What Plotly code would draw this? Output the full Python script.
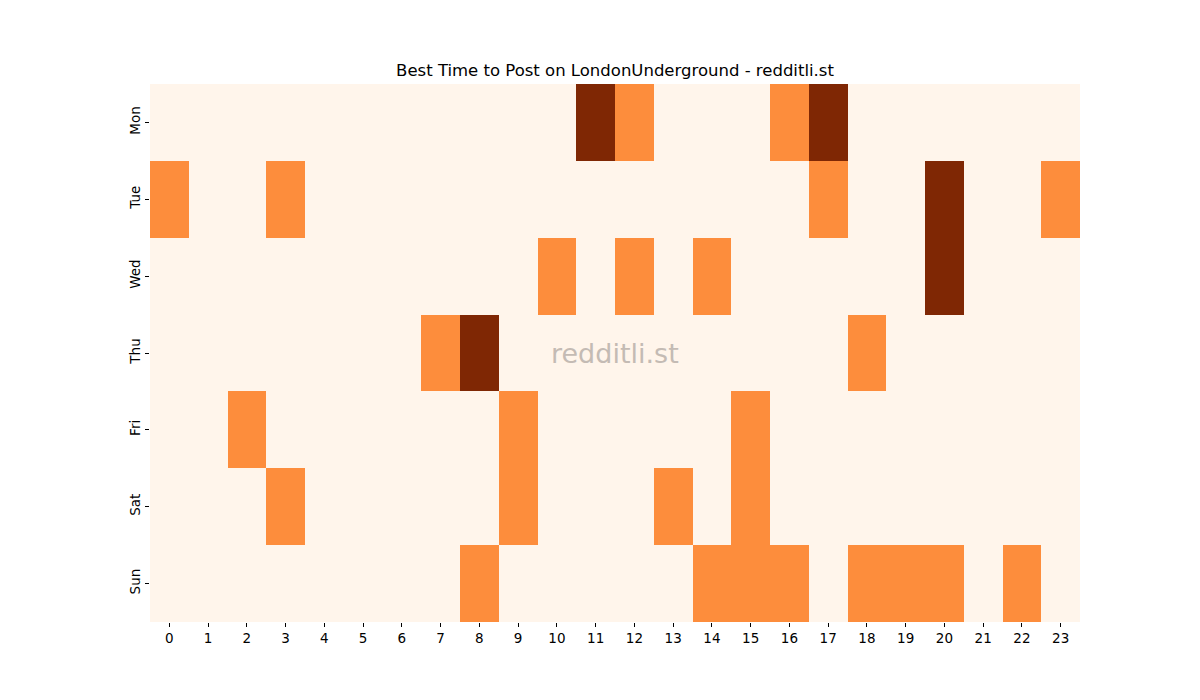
import plotly.graph_objects as go

days = ["Mon", "Tue", "Wed", "Thu", "Fri", "Sat", "Sun"]
hours = list(range(24))

mon = [0,0,0,0,0,0,0,0,0,0,0,2,1,0,0,0,1,2,0,0,0,0,0,0]
tue = [1,0,0,1,0,0,0,0,0,0,0,0,0,0,0,0,0,1,0,0,2,0,0,1]
wed = [0,0,0,0,0,0,0,0,0,0,1,0,1,0,1,0,0,0,0,0,2,0,0,0]
thu = [0,0,0,0,0,0,0,1,2,0,0,0,0,0,0,0,0,0,1,0,0,0,0,0]
fri = [0,0,1,0,0,0,0,0,0,1,0,0,0,0,0,1,0,0,0,0,0,0,0,0]
sat = [0,0,0,1,0,0,0,0,0,1,0,0,0,1,0,1,0,0,0,0,0,0,0,0]
sun = [0,0,0,0,0,0,0,0,1,0,0,0,0,0,1,1,1,0,1,1,1,0,1,0]

z = [mon, tue, wed, thu, fri, sat, sun]

fig = go.Figure(go.Heatmap(
    z=z, x=hours, y=days,
    colorscale=[[0, "#fff5eb"], [0.5, "#fd8d3c"], [1, "#7f2704"]],
    zmin=0, zmax=2, showscale=False, hoverinfo="skip",
))

fig.update_layout(
    width=1200, height=700,
    margin=dict(l=142, r=128, t=76, b=86),
    plot_bgcolor="white", paper_bgcolor="white",
    font=dict(family="DejaVu Sans", size=13.5, color="black"),
    title=dict(text="Best Time to Post on LondonUnderground - redditli.st",
               x=607/1200, xanchor="center", y=1-62/700, yanchor="middle",
               font=dict(size=16.5, color="black")),
    xaxis=dict(tickmode="array", tickvals=hours, ticktext=[str(h) for h in hours],
               ticks="outside", ticklen=4, tickcolor="black", showgrid=False,
               zeroline=False, showline=False, range=[-0.5, 23.5]),
    yaxis=dict(autorange="reversed", ticks="outside", ticklen=4, tickcolor="black",
               tickangle=-90, showgrid=False, zeroline=False, showline=False),
    annotations=[dict(text="redditli.st", xref="paper", yref="paper", x=0.5, y=0.5,
                      showarrow=False, font=dict(size=27, color="#c4bbb4"))],
)

fig.write_html("out.html")
